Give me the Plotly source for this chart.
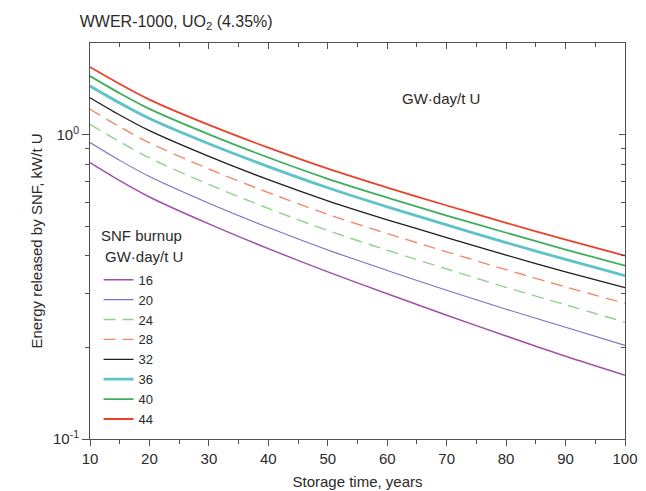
import plotly.graph_objects as go

# storage time, years
years = [10, 15, 20, 30, 40, 50, 60, 70, 80, 90, 100]

# energy released by SNF, kW/t U, per burnup (GW·day/t U)
e16 = [0.809, 0.706, 0.624, 0.509, 0.422, 0.354, 0.300, 0.255, 0.218, 0.187, 0.162]
e20 = [0.942, 0.823, 0.728, 0.595, 0.495, 0.418, 0.358, 0.308, 0.267, 0.233, 0.203]
e24 = [1.081, 0.947, 0.838, 0.686, 0.572, 0.484, 0.417, 0.362, 0.315, 0.276, 0.242]
e28 = [1.211, 1.061, 0.940, 0.771, 0.645, 0.547, 0.473, 0.412, 0.360, 0.316, 0.279]
e32 = [1.322, 1.160, 1.030, 0.848, 0.711, 0.606, 0.525, 0.459, 0.402, 0.354, 0.314]
e36 = [1.444, 1.270, 1.129, 0.933, 0.785, 0.669, 0.579, 0.505, 0.442, 0.389, 0.344]
e40 = [1.557, 1.368, 1.215, 1.002, 0.841, 0.716, 0.621, 0.542, 0.476, 0.419, 0.371]
e44 = [1.667, 1.466, 1.303, 1.076, 0.906, 0.773, 0.670, 0.585, 0.513, 0.452, 0.400]

burnups = ["16", "20", "24", "28", "32", "36", "40", "44"]
series = [e16, e20, e24, e28, e32, e36, e40, e44]

y_tickvals = [0.1, 1]
y_ticktext = ["10<sup>-1</sup>", "10<sup>0</sup>"]
y_minor = [0.2, 0.3, 0.4, 0.5, 0.6, 0.7, 0.8, 0.9]

STYLES = [
    dict(color="#a24fac", width=1.5),
    dict(color="#7a70c8", width=1.1),
    dict(color="#92d092", width=1.4, dash="12px,7px"),
    dict(color="#f2886a", width=1.4, dash="12px,7px"),
    dict(color="#1e1e1e", width=1.3),
    dict(color="#5ec3c9", width=2.8),
    dict(color="#3fae5c", width=1.8),
    dict(color="#e8432b", width=1.8),
]

AXIS = "#505050"
TEXT = "#2a2a2a"
FONT = "Liberation Sans, Arial, sans-serif"

fig = go.Figure()
for name, values, style in zip(burnups, series, STYLES):
    fig.add_trace(
        go.Scatter(
            x=years,
            y=values,
            name=name,
            mode="lines",
            line=dict(shape="spline", smoothing=0.8, **style),
            hovertemplate=f"{name}: %{{y:.3f}}<extra></extra>",
        )
    )

# invisible trace so the mirrored (inside-tick) axes get drawn
fig.add_trace(
    go.Scatter(
        x=years,
        y=e44,
        xaxis="x2",
        yaxis="y2",
        mode="lines",
        line=dict(width=0),
        opacity=0,
        showlegend=False,
        hoverinfo="skip",
    )
)

fig.update_layout(
    width=646,
    height=491,
    paper_bgcolor="white",
    plot_bgcolor="white",
    font=dict(family=FONT, size=15, color=TEXT),
    margin=dict(l=82, r=29, t=35, b=60, autoexpand=False),
    title=dict(
        text="WWER-1000, UO<sub>2</sub> (4.35%)",
        x=0.111,
        xanchor="left",
        y=0.984,
        yanchor="top",
        font=dict(size=16, color=TEXT),
    ),
    xaxis=dict(
        range=[10, 100],
        tick0=10,
        dtick=10,
        ticks="outside",
        ticklen=6,
        tickcolor=AXIS,
        showline=True,
        linecolor=AXIS,
        linewidth=1,
        showgrid=False,
        zeroline=False,
        automargin=False,
        minor=dict(dtick=5, ticks="outside", ticklen=4, tickcolor=AXIS, showgrid=False),
        title=dict(text="Storage time, years", font=dict(size=15), standoff=10),
    ),
    yaxis=dict(
        type="log",
        range=[-1, 0.301],
        tickvals=y_tickvals,
        ticktext=y_ticktext,
        ticks="outside",
        ticklen=7,
        tickcolor=AXIS,
        showline=True,
        linecolor=AXIS,
        linewidth=1,
        showgrid=False,
        zeroline=False,
        automargin=False,
        minor=dict(tickvals=y_minor, ticks="outside", ticklen=4, tickcolor=AXIS, showgrid=False),
        title=dict(text="Energy released by SNF, kW/t U", font=dict(size=15), standoff=6),
    ),
    xaxis2=dict(
        overlaying="x",
        side="top",
        anchor="y2",
        range=[10, 100],
        tick0=10,
        dtick=10,
        ticks="inside",
        ticklen=6,
        tickcolor=AXIS,
        showticklabels=False,
        showline=True,
        linecolor=AXIS,
        linewidth=1,
        showgrid=False,
        zeroline=False,
        automargin=False,
        minor=dict(dtick=5, ticks="inside", ticklen=4, tickcolor=AXIS, showgrid=False),
    ),
    yaxis2=dict(
        overlaying="y",
        side="right",
        anchor="x2",
        type="log",
        range=[-1, 0.301],
        tickvals=y_tickvals,
        ticks="inside",
        ticklen=6,
        tickcolor=AXIS,
        showticklabels=False,
        showline=True,
        linecolor=AXIS,
        linewidth=1,
        showgrid=False,
        zeroline=False,
        automargin=False,
        minor=dict(tickvals=y_minor, ticks="inside", ticklen=4, tickcolor=AXIS, showgrid=False),
    ),
    legend=dict(
        x=0.016,
        xanchor="left",
        y=0.44,
        yanchor="top",
        bgcolor="rgba(0,0,0,0)",
        font=dict(size=13),
        tracegroupgap=0,
        itemwidth=30,
    ),
    showlegend=True,
)

# legend heading, two lines as in the source
for text, ypos, xpos in [("SNF burnup", 0.513, 0.017), ("GW·day/t U", 0.46, 0.024)]:
    fig.add_annotation(
        text=text,
        xref="paper",
        yref="paper",
        x=xpos,
        y=ypos,
        xanchor="left",
        yanchor="middle",
        showarrow=False,
        font=dict(size=15, color=TEXT),
    )

fig.add_annotation(
    text="GW·day/t U",
    xref="paper",
    yref="paper",
    x=0.579,
    y=0.861,
    xanchor="left",
    yanchor="middle",
    showarrow=False,
    font=dict(size=15, color=TEXT),
)

fig.write_html("out.html")
